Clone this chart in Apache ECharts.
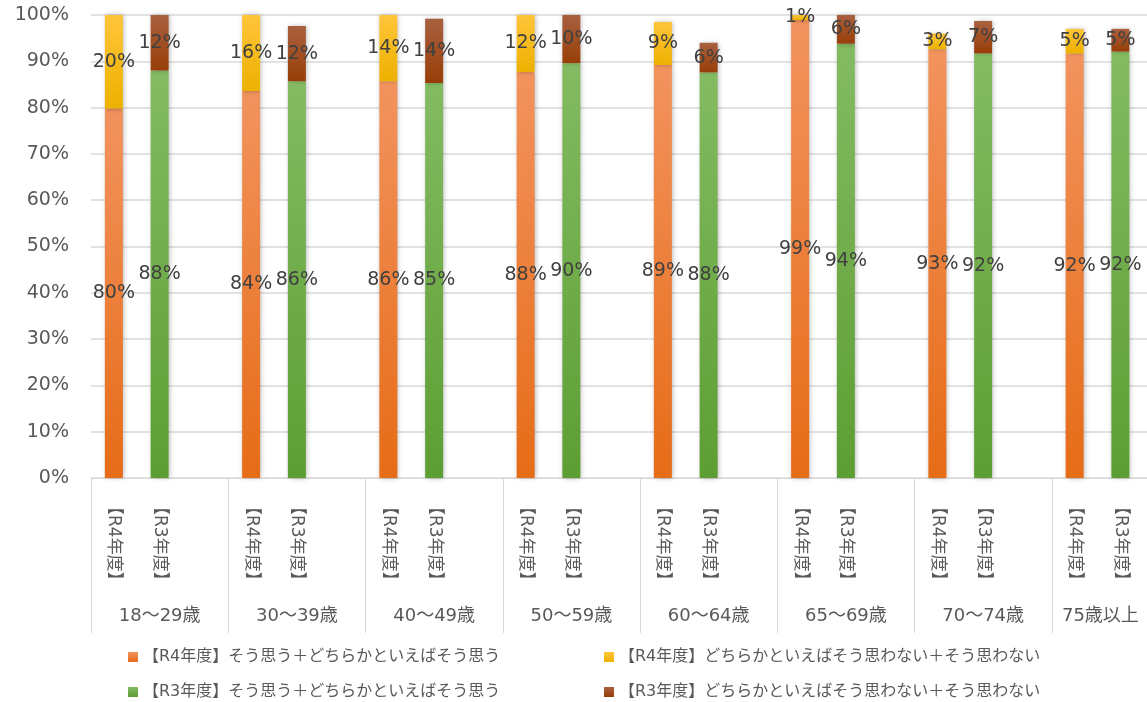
<!DOCTYPE html>
<html>
<head>
    <meta charset="utf-8">
    <title>Chart</title>
    <script src="https://cdn.jsdelivr.net/npm/echarts@6/dist/echarts.min.js"></script>
    <style>
        html, body { margin: 0; padding: 0; background: #fff; }
    </style>
</head>
<body>
    <div id="main" style="width:1147px;height:702px;"></div>
    <script type="text/javascript">
        var ageGroups = ['18～29歳', '30～39歳', '40～49歳', '50～59歳', '60～64歳', '65～69歳', '70～74歳', '75歳以上'];
        var yearLabels = ['【R4年度】', '【R3年度】', ''];

        var r4Agree    = [79.8, 83.6, 85.7, 87.7, 89.2, 98.9, 92.6, 91.7];
        var r4Disagree = [20.2, 16.4, 14.3, 12.3, 9.3, 1.1, 3.4, 5.3];
        var r3Agree    = [88.0, 85.7, 85.3, 89.6, 87.6, 93.8, 91.7, 92.1];
        var r3Disagree = [12.0, 11.9, 13.9, 10.4, 6.4, 6.2, 7.0, 4.9];

        var names = [
            '【R4年度】そう思う＋どちらかといえばそう思う',
            '【R4年度】どちらかといえばそう思わない＋そう思わない',
            '【R3年度】そう思う＋どちらかといえばそう思う',
            '【R3年度】どちらかといえばそう思わない＋そう思わない'
        ];

        var FONT = "'DejaVu Sans', 'Noto Sans CJK JP', sans-serif";

        // 3 slots per age group: R4, R3, gap
        var slots = [];
        ageGroups.forEach(function () {
            yearLabels.forEach(function (y) { slots.push(y); });
        });

        function spread(arr, pos) {
            var out = [];
            arr.forEach(function (v) {
                for (var k = 0; k < 3; k++) out.push(k === pos ? v : '-');
            });
            return out;
        }

        function grad(top, bottom) {
            return new echarts.graphic.LinearGradient(0, 0, 0, 1, [
                { offset: 0, color: top },
                { offset: 1, color: bottom }
            ]);
        }

        function barSeries(name, data, pos, top, bottom) {
            return {
                name: name,
                type: 'bar',
                stack: 'all',
                barWidth: 18,
                data: spread(data, pos),
                itemStyle: {
                    color: grad(top, bottom),
                    shadowBlur: 5,
                    shadowColor: 'rgba(0,0,0,0.3)',
                    shadowOffsetX: 1
                },
                label: {
                    show: true,
                    position: 'inside',
                    color: '#404040',
                    fontSize: 19,
                    fontFamily: FONT,
                    formatter: function (p) { return Math.round(p.value) + '%'; }
                }
            };
        }

        var groupData = ageGroups.map(function (g, i) {
            if (i === ageGroups.length - 1) {
                return { value: g, textStyle: { padding: [0, 40, 0, 0] } };
            }
            return g;
        });

        var legendText = { fontSize: 16, color: '#595959', fontFamily: FONT, lineHeight: 18 };

        var chart = echarts.init(document.getElementById('main'));
        chart.setOption({
            animation: false,
            grid: {
                left: 91, top: 15, right: -42, bottom: 224,
                outerBoundsMode: 'none'
            },
            legend: [{
                data: [names[0], names[2]],
                orient: 'vertical',
                left: 128, top: 648,
                padding: 0,
                icon: 'rect', itemWidth: 10, itemHeight: 10,
                itemGap: 17,
                textStyle: legendText
            }, {
                data: [names[1], names[3]],
                orient: 'vertical',
                left: 604, top: 648,
                padding: 0,
                icon: 'rect', itemWidth: 10, itemHeight: 10,
                itemGap: 17,
                textStyle: legendText
            }],
            xAxis: [{
                type: 'category',
                data: slots,
                axisLine: { lineStyle: { color: '#d9d9d9', width: 1 } },
                axisTick: { show: false },
                axisLabel: {
                    interval: 0,
                    rotate: -90,
                    margin: 20,
                    fontSize: 17,
                    color: '#595959',
                    fontFamily: FONT
                }
            }, {
                type: 'category',
                data: groupData,
                position: 'bottom',
                axisLine: { show: false },
                axisTick: { show: true, length: 155, interval: 0, lineStyle: { color: '#d9d9d9' } },
                axisLabel: {
                    interval: 0,
                    margin: 129,
                    fontSize: 18,
                    color: '#595959',
                    fontFamily: FONT
                }
            }],
            yAxis: {
                type: 'value',
                min: 0,
                max: 100,
                interval: 10,
                axisLine: { show: false },
                axisTick: { show: false },
                splitLine: { lineStyle: { color: '#d9d9d9', width: 1.5 } },
                axisLabel: {
                    formatter: '{value}%',
                    margin: 22,
                    fontSize: 19,
                    color: '#595959',
                    fontFamily: FONT
                }
            },
            series: [
                barSeries(names[0], r4Agree, 0, '#F2935E', '#E66C17'),
                barSeries(names[1], r4Disagree, 0, '#FFC53A', '#EDB100'),
                barSeries(names[2], r3Agree, 1, '#84BB62', '#5D9E33'),
                barSeries(names[3], r3Disagree, 1, '#A9603F', '#983E08')
            ]
        });
    </script>
</body>
</html>
